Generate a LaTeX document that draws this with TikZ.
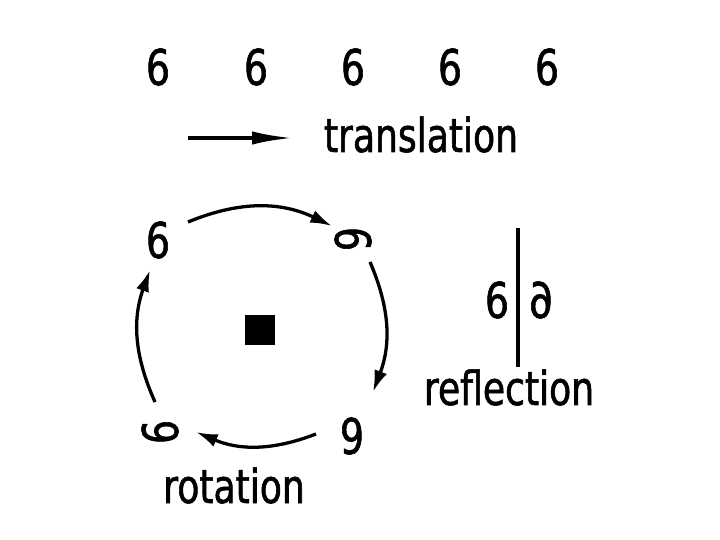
\documentclass[tikz,border=0pt]{standalone}
\usepackage{fontspec}
\setmainfont[FakeStretch=0.77,FakeBold=1.2]{DejaVu Sans}
\usepackage{graphicx}
\usetikzlibrary{arrows.meta}

\begin{document}
\begin{tikzpicture}[x=0.03cm,y=-0.03cm,
    digit/.style={font=\fontsize{42}{42}\selectfont, inner sep=0pt},
    word/.style={font=\fontsize{40}{40}\selectfont, inner sep=0pt, anchor=base},
    turn/.style={-{Latex[length=0.65cm,width=0.4cm]}, line width=2.8pt}]
\useasboundingbox (0,0) rectangle (720,540);

% translation
\foreach \i/\x in {1/158,2/256,3/353,4/450,5/547}
    \node[digit] (t\i) at (\x,67) {6};
\coordinate (tA) at (188,138);
\coordinate (tB) at (292,138);
\draw[turn,-{Latex[length=1.2cm,width=0.4cm]}] (tA) -- (tB);
\node[word] (trans) at (421,152) {translation};

% rotation
\node[digit] (r1) at (158,240) {6};
\node[digit,rotate=-90] (r2) at (353,239) {6};
\node[digit,rotate=180] (r3) at (352,436) {6};
\node[digit,rotate=90] (r4) at (160,432) {6};
\fill (245,315) rectangle (275,345);
\coordinate (a1) at (188,222);
\coordinate (a2) at (332,226);
\coordinate (b1) at (370,262);
\coordinate (b2) at (373,392);
\coordinate (c1) at (316,434);
\coordinate (c2) at (196,432);
\coordinate (d1) at (155,402);
\coordinate (d2) at (150,270);
\draw[turn] (a1) to[bend left=24] (a2);
\draw[turn] (b1) to[bend left=22] (b2);
\draw[turn] (c1) to[bend left=22] (c2);
\draw[turn] (d1) to[bend left=22] (d2);
\node[word] (rot) at (234,503) {rotation};

% reflection
\coordinate (m1) at (518,228);
\coordinate (m2) at (518,367);
\draw[line width=4pt] (m1) -- (m2);
\node[digit] (s1) at (497,300) {6};
\node[digit] (s2) at (541,300) {\scalebox{-1}[1]{6}};
\node[word] (refl) at (509,405) {reflection};
\end{tikzpicture}
\end{document}
